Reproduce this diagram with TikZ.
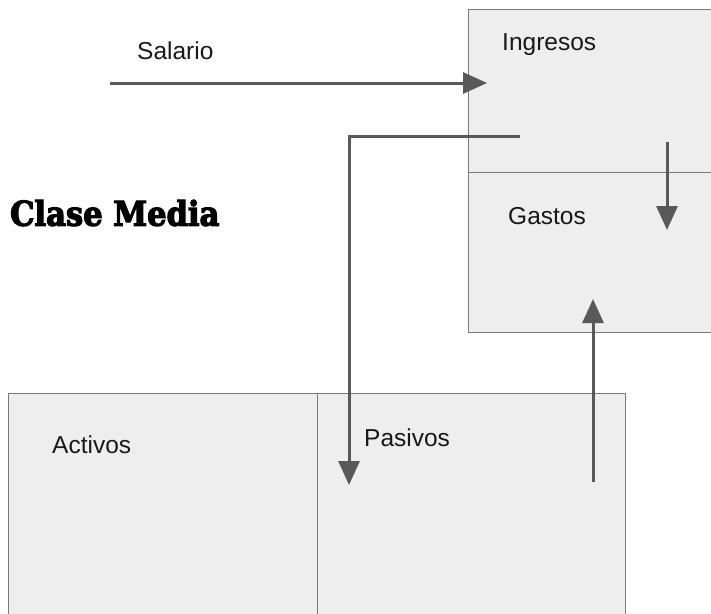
\documentclass[tikz,border=0pt]{standalone}
\usepackage{fontspec}
\setmainfont{Liberation Sans}
\newfontfamily\titlefont{DejaVu Serif Condensed}[BoldFeatures={FakeBold=3.5}]
\usetikzlibrary{arrows.meta}
\definecolor{boxfill}{HTML}{EEEEEE}
\definecolor{boxline}{HTML}{7A7A7A}
\definecolor{flow}{HTML}{595959}
\tikzset{
  panel/.style={draw=boxline, line width=1pt, fill=boxfill, rectangle, inner sep=0pt},
  label/.style={anchor=west, inner sep=0pt, font=\fontsize{24.5}{28}\selectfont, text=black!90},
  flowline/.style={draw=flow, line width=3pt},
  flowarrow/.style={flowline, -{Triangle[length=24pt, width=21pt]}},
}
\begin{document}
\begin{tikzpicture}[x=1pt, y=-1pt]
\clip (0,0) rectangle (711,613);
\fill[white] (0,0) rectangle (711,613);

% income statement panels
\node[panel, minimum width=250pt, minimum height=163pt, anchor=north west] (ingresos) at (468,9) {};
\node[panel, minimum width=250pt, minimum height=160pt, anchor=north west] (gastos) at (468,172) {};

% balance sheet panels
\node[panel, minimum width=309pt, minimum height=230pt, anchor=north west] (activos) at (8,393) {};
\node[panel, minimum width=308pt, minimum height=230pt, anchor=north west] (pasivos) at (317,393) {};

% labels
\node[label] (tIngresos) at (502,45) {Ingresos};
\node[label] (tGastos) at (508,216) {Gastos};
\node[label] (tActivos) at (52,445) {Activos};
\node[label] (tPasivos) at (364,438) {Pasivos};
\node[label] (tSalario) at (137,51) {Salario};
\node[anchor=west, inner sep=0pt, font=\titlefont\bfseries\fontsize{34}{38}\selectfont] (titulo) at (10,213) {Clase Media};

% cash flow connectors
\coordinate (salIn) at (110,83);
\coordinate (salOut) at (487,83);
\coordinate (ingOut) at (520,136);
\coordinate (bend) at (349,136);
\coordinate (pasIn) at (349,485);
\coordinate (gasTop) at (667,142);
\coordinate (gasIn) at (667,230);
\coordinate (pasOut) at (593,482);
\coordinate (gasUp) at (593,299);

\draw[flowarrow] (salIn) -- (salOut);
\draw[flowarrow] (ingOut) -- (bend) -- (pasIn);
\draw[flowarrow] (gasTop) -- (gasIn);
\draw[flowarrow] (pasOut) -- (gasUp);
\end{tikzpicture}
\end{document}
